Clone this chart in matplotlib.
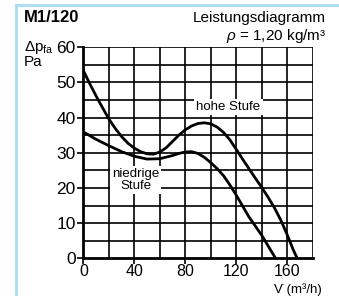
import matplotlib
matplotlib.use("Agg")
import matplotlib.pyplot as plt
import matplotlib.lines as mlines

plt.rcParams["font.family"] = ["Liberation Sans", "DejaVu Sans"]
plt.rcParams["mathtext.fontset"] = "custom"
plt.rcParams["mathtext.rm"] = "Liberation Sans"
plt.rcParams["mathtext.it"] = "Liberation Sans:italic"

# hohe Stufe (V in m3/h, dp in Pa)
v_hoch = [0, 5, 10, 15, 20, 25, 30, 35, 40, 45, 50, 55, 60, 65, 70, 75, 80, 85, 90,
          95, 100, 105, 110, 115, 120, 125, 130, 135, 140, 145, 150, 155, 160, 165, 168]
p_hoch = [53.3, 49.6, 46.1, 42.8, 39.6, 36.9, 34.6, 32.7, 31.3, 30.3, 29.7, 29.6, 30.2,
          31.4, 33.2, 35.0, 36.5, 37.6, 38.3, 38.5, 38.2, 37.3, 35.8, 33.7, 31.0, 28.2,
          25.5, 22.8, 20.2, 17.4, 14.4, 10.9, 6.8, 2.3, 0]

# niedrige Stufe
v_niedrig = [0, 10, 20, 30, 40, 50, 60, 70, 75, 80, 85, 90, 95, 100, 105, 110, 115,
             120, 125, 130, 135, 140, 145, 151]
p_niedrig = [35.9, 33.8, 32.0, 30.3, 29.0, 28.2, 28.3, 29.2, 29.8, 30.2, 30.3, 29.8,
             28.7, 27.2, 25.5, 23.5, 20.9, 18.0, 14.9, 11.8, 9.2, 6.6, 3.6, 0]

x_ticks = [0, 40, 80, 120, 160]
y_ticks = [0, 10, 20, 30, 40, 50, 60]

fig = plt.figure(figsize=(3.39, 2.96), dpi=100)
ax = fig.add_axes([0.246, 0.127, 0.676, 0.714])

# grid every 20 m3/h and 5 Pa
for gx in range(20, 181, 20):
    ax.axvline(gx, color="black", lw=1.2, zorder=1)
for gy in range(5, 61, 5):
    ax.axhline(gy, color="black", lw=1.2, zorder=1)

ax.plot(v_hoch, p_hoch, color="black", lw=2, zorder=3, solid_joinstyle="round")
ax.plot(v_niedrig, p_niedrig, color="black", lw=2, zorder=3, solid_joinstyle="round")

ax.set_xlim(0, 180)
ax.set_ylim(0, 60)
ax.set_xticks(x_ticks)
ax.set_yticks(y_ticks)
ax.tick_params(length=4, width=1.2, color="black")
ax.tick_params(axis="y", labelsize=12.5, pad=1.5)
ax.tick_params(axis="x", labelsize=11.5, pad=0)
for s in ["top", "right"]:
    ax.spines[s].set_visible(False)
ax.spines["left"].set_linewidth(2)
ax.spines["bottom"].set_linewidth(2)

ax.text(114, 43, "hohe Stufe", ha="center", va="center", fontsize=9.5,
        zorder=4, bbox=dict(facecolor="white", edgecolor="none", pad=1.5))
ax.text(41, 22.2, "niedrige\nStufe", ha="center", va="center", fontsize=9.5,
        zorder=4, linespacing=1.0,
        bbox=dict(facecolor="white", edgecolor="none", pad=1.5))

fig.text(24 / 339, 1 - 18 / 296, "M1/120", fontsize=12, weight="bold",
         ha="left", va="center")
fig.text(326 / 339, 1 - 18 / 296, "Leistungsdiagramm", fontsize=11,
         ha="right", va="center")
fig.text(326 / 339, 1 - 36 / 296, r"$\rho$ = 1,20 kg/m³", fontsize=11,
         ha="right", va="center")
fig.text(24 / 339, 1 - 47 / 296, r"Δp$_{\mathrm{fa}}$", fontsize=11,
         ha="left", va="center")
fig.text(24 / 339, 1 - 62 / 296, "Pa", fontsize=11, ha="left", va="center")
fig.text(322 / 339, 0, "V\u0307 (m³/h)", fontsize=9.5, ha="right", va="bottom")

# light blue frame lines
blue = "#a9dcf3"
fig.add_artist(mlines.Line2D([16 / 339, 16 / 339], [0, 1 - 5 / 296],
                             transform=fig.transFigure, color=blue, lw=2))
fig.add_artist(mlines.Line2D([16 / 339, 1], [1 - 5 / 296, 1 - 5 / 296],
                             transform=fig.transFigure, color=blue, lw=2))

fig.savefig("out.png", dpi=100)
